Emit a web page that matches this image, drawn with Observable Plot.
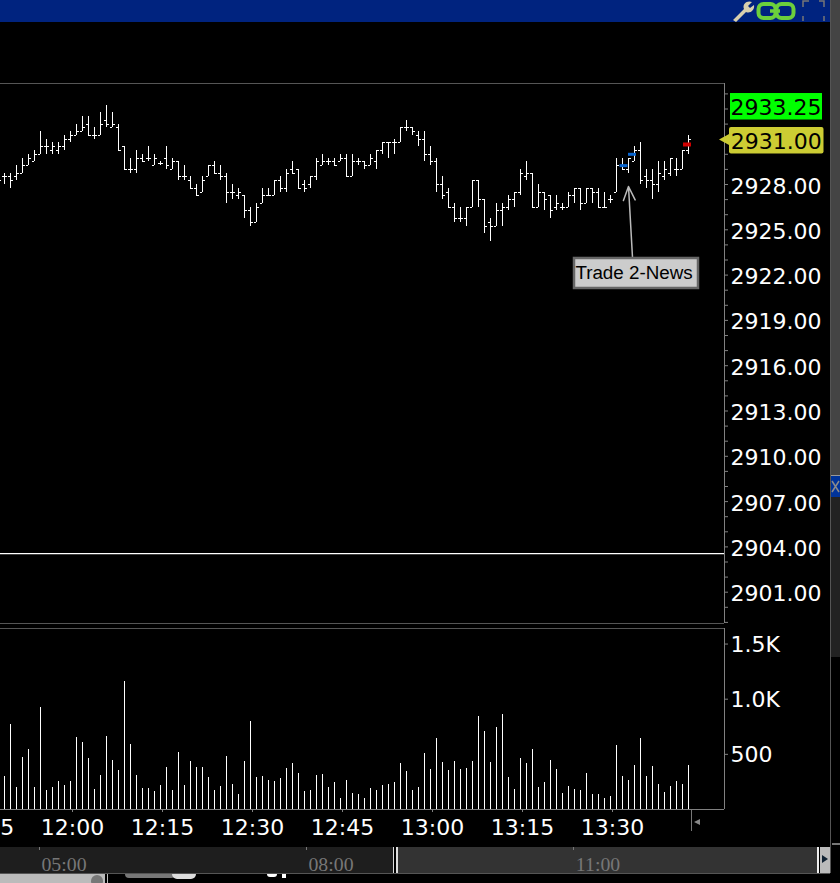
<!DOCTYPE html>
<html>
<head>
<meta charset="utf-8">
<script src="https://cdn.jsdelivr.net/npm/d3@7"></script>
<script src="https://cdn.jsdelivr.net/npm/@observablehq/plot@0.6"></script>
<style>
html,body{margin:0;padding:0;background:#000;}
#page{position:relative;width:840px;height:883px;overflow:hidden;background:#000;}
#page>svg{position:absolute;left:0;}
.c{position:absolute;}
.s{position:absolute;top:854px;font:19.8px "Liberation Serif",serif;color:#777;line-height:20px;transform:translateX(-50%);}
</style>
</head>
<body>
<div id="page">
  <div class="c" style="left:0;top:0;width:830px;height:22px;background:#00237f;"></div>
  <div class="c" style="left:830px;top:0;width:1px;height:873px;background:#555;"></div>
  <div class="c" style="left:831px;top:0;width:9px;height:475px;background:#444;"></div>
  <div class="c" style="left:831px;top:475px;width:9px;height:22px;background:#003399;border-top:1px solid #999;box-sizing:border-box;"></div>
  <div class="c" style="left:831px;top:497px;width:9px;height:160px;background:#222;"></div>
  <div class="c" style="left:832px;top:843px;width:8px;height:2px;background:#777;"></div>
  <svg style="left:730px;top:0;" width="100" height="22" viewBox="0 0 100 22">
    <path d="M3 20 L14 9 C12 4 17 0 22 2 L18 6 L20 8 L24 5 C25 10 20 14 16 12 L6 22 Z" fill="#d8cfae"/>
    <rect x="28.5" y="4" width="17" height="14" rx="5" fill="none" stroke="#6ccf3c" stroke-width="4"/>
    <rect x="46.5" y="4" width="17" height="14" rx="5" fill="none" stroke="#6ccf3c" stroke-width="4"/>
    <path d="M40 11 H50" stroke="#6ccf3c" stroke-width="3.5"/>
    <path d="M73 7 V1 H79 M89 1 H94 V7 M94 16 V21 M73 16 V21" fill="none" stroke="#777" stroke-width="1.5"/>
  </svg>
  <svg style="left:831px;top:475px;" width="9" height="22"><path d="M1 6 L8 17 M8 6 L1 17" stroke="#8a8a8a" stroke-width="1.5"/></svg>

  <div class="c" style="left:691px;top:809px;width:1px;height:22px;background:#777;"></div>
  <div class="c" style="left:694px;top:819px;width:0;height:0;border-top:3px solid transparent;border-bottom:3px solid transparent;border-right:6px solid #888;"></div>

  <div class="c" style="left:0;top:847px;width:393px;height:26px;background:#1e1e1e;"></div>
  <div class="c" style="left:393px;top:847px;width:1px;height:26px;background:#ddd;"></div>
  <div class="c" style="left:396px;top:847px;width:2px;height:26px;background:#ddd;"></div>
  <div class="c" style="left:398px;top:847px;width:419px;height:26px;background:#333;"></div>
  <div class="c" style="left:0;top:873px;width:830px;height:1px;background:#555;"></div>
  <div class="c" style="left:39px;top:847px;width:1px;height:3px;background:#777;"></div>
  <div class="c" style="left:306px;top:847px;width:1px;height:3px;background:#777;"></div>
  <div class="c" style="left:573px;top:847px;width:1px;height:3px;background:#777;"></div>
  <div class="s" style="left:64px;">05:00</div>
  <div class="s" style="left:331px;">08:00</div>
  <div class="s" style="left:598px;">11:00</div>
  <div class="c" style="left:817px;top:847px;width:2px;height:26px;background:#eee;"></div>
  <div class="c" style="left:820px;top:847px;width:10px;height:26px;background:#bbb;"></div>
  <div class="c" style="left:822px;top:855px;width:0;height:0;border-top:4px solid transparent;border-bottom:4px solid transparent;border-left:6px solid #123;"></div>
  <div class="c" style="left:0;top:874px;width:105px;height:9px;background:#bbb;"></div>
  <div class="c" style="left:91px;top:875px;width:12px;height:12px;border-radius:6px;background:#777;"></div>
  <div class="c" style="left:107px;top:874px;width:1px;height:9px;background:#bbb;"></div>
  <div class="c" style="left:125px;top:874px;width:50px;height:4px;background:#777;border-radius:0 0 8px 8px;"></div>
  <div class="c" style="left:172px;top:874px;width:24px;height:5px;background:#ddd;border-radius:0 0 12px 12px;"></div>
  <div class="c" style="left:267px;top:874px;width:10px;height:3px;background:#fff;border-radius:0 0 6px 6px;"></div>
  <div class="c" style="left:282px;top:874px;width:4px;height:4px;background:#fff;"></div>
</div>
<script>
const highPrices = [2928.5,
2928.75,2928.75,2929.25,2929.75,2930,2930.25,2931.5,2931,2930.75,2930.75,
2931.25,2931.5,2932,2932.5,2932.5,2931.75,2932.75,2933.25,2932.75,2932,
2930.5,2929.75,2930.25,2930,2930.5,2930,2929.5,2930.5,2929.75,2929.5,
2929.25,2928.5,2928,2928.5,2929.25,2929.5,2929.25,2928.75,2928,2927.75,
2927.25,2926.5,2926.75,2927.75,2927.75,2928.25,2928.5,2929,2929.5,2929,
2928.25,2928.5,2929.75,2930,2929.75,2929.75,2930,2930,2930,2929.75,
2929.5,2930,2930.25,2930.75,2930.75,2931,2931.75,2932.25,2931.75,2931.5,
2931.5,2930.5,2929.75,2928.5,2927.75,2926.75,2926.5,2926.5,2928.25,2928.25,
2927,2925.75,2926.75,2926.75,2927.25,2927.5,2929,2929.5,2928.75,2928,
2927.5,2927.25,2927.25,2926.75,2927.5,2927.75,2927.75,2927.75,2927.75,2927.75,
2927.5,2927.25,2929.75,2929.75,2929.75,2930.5,2930.75,2929,2929,2929.5,
2929.5,2929.75,2929.75,2930.25,2931.25];
const lowPrices = [2928,
2928,2927.75,2928.25,2928.75,2929.25,2929.5,2930,2930,2930,2930,
2930.25,2930.75,2931.25,2931.5,2931.25,2931,2931.25,2931.75,2931.75,2930.25,
2929,2928.75,2928.75,2929.5,2929.5,2929.25,2929.25,2929,2929,2928.25,
2928.25,2927.75,2927.25,2927.5,2928.5,2928.75,2928.25,2926.75,2927,2927,
2925.75,2925.25,2925.5,2926.75,2927.25,2927.25,2927.5,2927.5,2928.75,2927.75,
2927.5,2927.75,2928.25,2929.25,2929.25,2929.25,2929.5,2928.5,2928.5,2929.25,
2929,2929.25,2929,2930,2929.75,2930,2930.75,2931.5,2931.25,2930.5,
2929.5,2929.25,2927.5,2927,2926.5,2925.5,2925.5,2925.25,2926.5,2926.5,
2924.75,2924.25,2925.25,2925.25,2926.25,2926.5,2927.25,2928.25,2926.5,2926.5,
2926.25,2925.75,2926.25,2926.25,2926.5,2926.75,2926.25,2926.75,2926.75,2926.5,
2926.5,2926.75,2927.5,2929,2928.75,2929.5,2928,2927.75,2927,2927.5,
2928.25,2928.5,2928.5,2929,2930];
const openPrices = [2928.25,
2928.5,2928.5,2928.5,2928.75,2929.25,2929.5,2930,2930.5,2930.25,2930.25,
2930.5,2931,2931.25,2931.5,2932,2931.25,2931.25,2932.25,2931.75,2931.75,
2930.5,2929,2929,2929.75,2929.75,2929.25,2929.375,2929.75,2929,2929.5,
2928.5,2928.25,2927.75,2927.5,2928.5,2929.25,2928.75,2928.5,2927.5,2927.25,
2927.25,2926.25,2925.5,2926.75,2927.25,2927.25,2928.25,2927.75,2929,2929,
2928,2928,2928.5,2929.25,2929.5,2929.5,2929.5,2929.75,2928.5,2929.5,
2929.5,2929.25,2929.5,2930.25,2930.75,2930.75,2930.75,2931.75,2931.75,2931.25,
2931,2930,2929.5,2928,2927.5,2926.5,2925.75,2925.75,2926.5,2928.25,
2927,2925.5,2925.25,2926.25,2926.5,2927,2927.5,2928.5,2928.75,2926.5,
2927.5,2927.25,2926.5,2926.5,2926.5,2927.25,2927.75,2926.75,2927.75,2927.5,
2926.5,2927,2927.5,2929.25,2929,2929.5,2930.25,2928.5,2928.25,2928,
2928.5,2928.75,2929,2929,2930.25];
const closePrices = [2928.25,
2928.5,2928.25,2928.75,2929.25,2929.75,2930,2930.5,2930.5,2930.5,2930.5,
2931,2931.25,2931.5,2931.75,2931.25,2931.25,2932,2932,2932,2930.25,
2929,2929,2929.75,2929.5,2929.75,2929.75,2929.375,2929.25,2929.5,2928.5,
2928.5,2927.75,2927.25,2928.25,2929.25,2928.75,2928.5,2927.5,2927.5,2927.5,
2926.25,2925.5,2926.5,2927.25,2927.25,2928.25,2927.75,2928.75,2928.75,2927.75,
2927.75,2928.5,2929.5,2929.5,2929.5,2929.25,2929.75,2928.5,2929.5,2929.5,
2929.25,2929.75,2930.25,2930.75,2930.75,2930.75,2931.75,2931.75,2931.5,2931,
2930,2929.5,2928,2927.25,2926.5,2925.75,2925.75,2926.5,2928.25,2927,
2925.25,2925.25,2926.25,2926.5,2927,2927.5,2928.75,2928.75,2926.5,2927.5,
2927,2926.25,2926.75,2926.5,2927.25,2927.75,2926.75,2927.75,2927.5,2926.5,
2926.5,2927,2929.25,2929,2929.75,2930.25,2928.25,2928.25,2928,2928.75,
2929,2929.75,2929,2930.25,2931];
const volumes = [200,
300,773,200,473,545,200,927,173,200,255,
218,255,655,609,464,182,309,664,445,355,
1164,591,309,191,191,164,218,382,173,518,
218,436,382,382,291,173,209,482,227,136,
436,800,291,300,264,255,282,373,418,327,
164,173,309,318,200,245,100,264,145,136,
100,191,173,218,227,245,418,345,173,200,
509,364,645,427,355,436,364,373,436,845,
709,427,745,864,291,182,464,418,545,200,
245,445,364,145,209,182,173,327,136,136,
100,118,582,300,264,400,645,300,391,227,
155,209,255,227,400];

const tradeBars = [104, 105, 115];
const tradePrices = [2929.25, 2930, 2930.65];
const tradeSides = ["buy", "buy", "sell"];
const priceLabels = [2901, 2904, 2907, 2910, 2913, 2916, 2919, 2922, 2925, 2928];
const priceMinor = d3.range(2899, 2935);
const volumeTicks = [500, 1000, 1500];
const timeTicks = ["11:45", "12:00", "12:15", "12:30", "12:45", "13:00", "13:15", "13:30"];
const lastPrice = 2931.00;
const sessionHigh = 2933.25;
const refLevel = 2903.56;
const noteText = "Trade 2-News";

const noon = Date.UTC(2019, 0, 7, 12, 0, 0);
const sec = s => new Date(noon + s * 1000);
const clock = s => { const [h, m] = s.split(":").map(Number); return new Date(Date.UTC(2019, 0, 7, h, m)); };
// the first bar sits just left of the window; bars are one minute apart
const barTime = i => sec(-740 + 60 * i);
const bars = volumes.map((v, i) => ({
  t: barTime(i), open: openPrices[i], high: highPrices[i], low: lowPrices[i], close: closePrices[i], volume: v
}));
const side = 25;
const shift = (d, s) => new Date(+d + s * 1000);
const trades = tradeBars.map((b, i) => ({t: barTime(b), price: tradePrices[i], side: tradeSides[i]}));

const xDomain = [sec(-720), sec(6520)];
const xRange = [0, 724];
const pxPerPoint = 15.1;
const yDomain = [2928 - 439 / pxPerPoint, 2928 + 101 / pxPerPoint];
const font = "'DejaVu Sans', sans-serif";

const tag = (value, fill, tip) => (index, scales) => {
  const cy = scales.y(value) + 1.8;
  const g = d3.create("svg:g");
  if (tip) g.append("path").attr("d", `M719 ${cy-1} L730 ${cy-7} V${cy+5} Z`).attr("fill", fill);
  const left = tip ? 729 : 730, w = tip ? 94.5 : 92, h = 26.5;
  g.append("rect").attr("x", left).attr("y", cy - 13.5).attr("width", w).attr("height", h)
    .attr("rx", tip ? 2 : 0).attr("fill", fill);
  g.append("text").attr("x", left + w / 2).attr("y", cy + 0.3).attr("dy", "0.36em").attr("text-anchor", "middle")
    .attr("fill", "#000").attr("font-size", 22).attr("font-family", font).text(value.toFixed(2));
  return g.node();
};
const noteBox = (index, scales) => {
  const cx = scales.x(sec(5640)), cy = scales.y(2922.14);
  const g = d3.create("svg:g");
  g.append("rect").attr("x", cx - 62).attr("y", cy - 14.5).attr("width", 124).attr("height", 30)
    .attr("fill", "#cccccc").attr("stroke", "#666").attr("stroke-width", 2.5);
  g.append("text").attr("x", cx - 2).attr("y", cy).attr("dy", "0.36em").attr("text-anchor", "middle")
    .attr("fill", "#000").attr("font-size", 18.8).attr("font-family", "'Liberation Sans', Arial, sans-serif").text(noteText);
  return g.node();
};

const pricePlot = Plot.plot({
  width: 840, height: 624,
  marginTop: 83, marginBottom: 1, marginLeft: 0, marginRight: 116,
  style: {background: "transparent", color: "#fff", fontFamily: font, fontSize: "22px"},
  x: {type: "utc", domain: xDomain, range: xRange, axis: null},
  y: {domain: yDomain, range: [623, 83], axis: null},
  marks: [
    Plot.ruleY(yDomain, {stroke: "#555"}),
    Plot.ruleX([xDomain[1]], {stroke: "#808080"}),
    Plot.axisY({anchor: "right", ticks: priceMinor, tickSize: 3, fill: "none", stroke: "#808080", label: null}),
    Plot.axisY({anchor: "right", ticks: priceLabels, tickSize: 0, tickPadding: 6, dy: 2, tickFormat: d3.format(".2f"), fill: "#fff", label: null, fontSize: 22}),
    Plot.ruleY([refLevel], {stroke: "#fff", strokeWidth: 1.2}),
    Plot.ruleX(bars, {x: "t", y1: "low", y2: "high", stroke: "#fff", shapeRendering: "crispEdges"}),
    Plot.ruleY(bars, {y: "open", x1: d => shift(d.t, -side), x2: "t", stroke: "#fff", shapeRendering: "crispEdges"}),
    Plot.ruleY(bars, {y: "close", x1: "t", x2: d => shift(d.t, side), stroke: "#fff", shapeRendering: "crispEdges"}),
    Plot.ruleY(trades.filter(d => d.side === "buy"), {
      y: "price", x1: (d, i) => shift(d.t, i ? 0 : -25), x2: (d, i) => shift(d.t, i ? 80 : 55),
      stroke: "#0a66d0", strokeWidth: 3}),
    Plot.ruleY(trades.filter(d => d.side === "sell"), {
      y: "price", x1: d => shift(d.t, -50), x2: d => shift(d.t, 30),
      stroke: "#d00000", strokeWidth: 4}),
    Plot.arrow([{x1: sec(5600), y1: 2923.17, x2: sec(5560), y2: 2927.87}], {
      x1: "x1", y1: "y1", x2: "x2", y2: "y2", stroke: "#bbb", strokeWidth: 1.5, headLength: 15, headAngle: 46}),
    noteBox,
    tag(sessionHigh, "#00ff00", false),
    tag(lastPrice, "#cccc33", true)
  ]
});
pricePlot.style.top = "0px";

const volumePlot = Plot.plot({
  width: 840, height: 219,
  marginTop: 0, marginBottom: 38, marginLeft: 0, marginRight: 116,
  style: {background: "transparent", color: "#fff", fontFamily: font, fontSize: "22px"},
  x: {type: "utc", domain: xDomain, range: xRange, axis: null},
  y: {domain: [0, 1641], range: [181, 0], axis: null},
  marks: [
    Plot.ruleY([1641], {stroke: "#555"}),
    Plot.ruleX([xDomain[1]], {stroke: "#808080"}),
    Plot.ruleX(bars, {x: "t", y1: 0, y2: "volume", stroke: "#fff", shapeRendering: "crispEdges"}),
    Plot.ruleY([0], {stroke: "#808080"}),
    Plot.axisY({anchor: "right", ticks: volumeTicks, tickSize: 3, stroke: "#808080", fill: "none", label: null}),
    Plot.axisY({anchor: "right", ticks: volumeTicks, tickSize: 0, tickPadding: 6, dy: 1, fill: "#fff", label: null, fontSize: 22,
      tickFormat: d => d < 1000 ? String(d) : (d / 1000).toFixed(1) + "K"}),
    Plot.axisX({anchor: "bottom", ticks: timeTicks.map(clock), tickSize: 3, stroke: "#808080", fill: "none", label: null}),
    Plot.axisX({anchor: "bottom", ticks: timeTicks.map(clock), tickSize: 0, tickPadding: 10, fill: "#fff", label: null, fontSize: 22,
      tickFormat: d3.utcFormat("%H:%M")})
  ]
});
volumePlot.style.top = "628px";

document.getElementById("page").append(pricePlot, volumePlot);
</script>
</body>
</html>
